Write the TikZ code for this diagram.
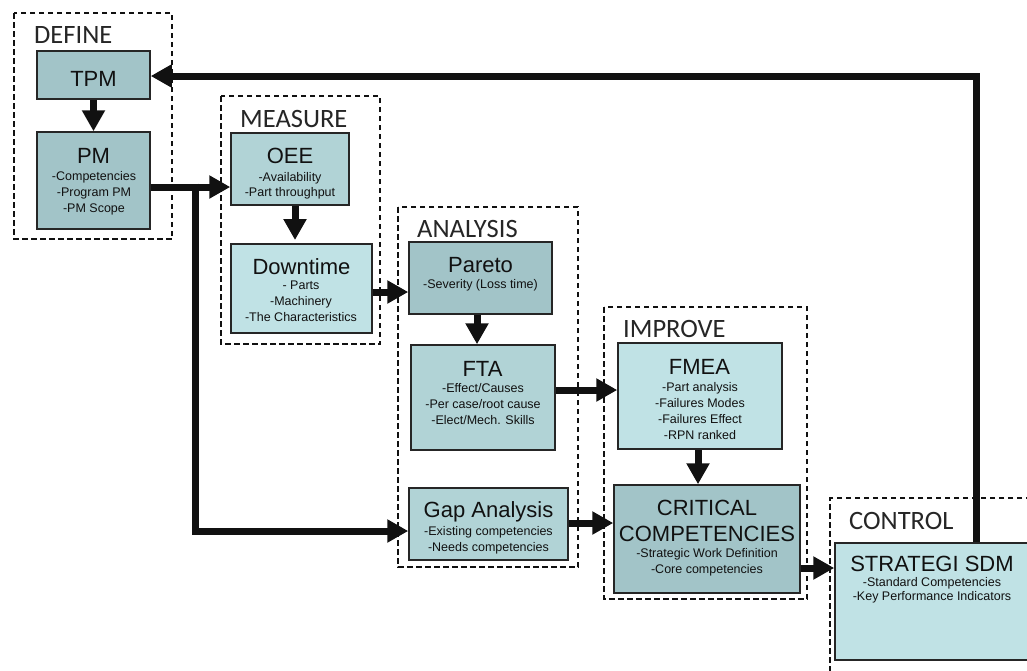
\documentclass[tikz,border=0pt]{standalone}
\usepackage{fontspec}
\setmainfont{Liberation Sans}
\newfontfamily\stagefont{Carlito}
\usetikzlibrary{arrows.meta}
\definecolor{boxlight}{HTML}{C0E2E5}
\definecolor{boxdark}{HTML}{A2C4C8}
\definecolor{boxmid}{HTML}{B1D3D6}
\definecolor{ink}{HTML}{111111}
\definecolor{edge}{HTML}{262626}

\begin{document}
\begin{tikzpicture}[x=1pt,y=-1pt,
  box/.style={draw=edge, line width=1.5pt, rectangle, inner sep=0pt},
  phase/.style={draw=ink, line width=1.3pt, dash pattern=on 5.5pt off 3.5pt},
  stage/.style={font=\stagefont\fontsize{26.5}{28}\selectfont, text=edge, anchor=base west, inner sep=0pt},
  title/.style={font=\fontsize{22}{24}\selectfont, text=ink, anchor=base, inner sep=0pt},
  item/.style={font=\fontsize{12.5}{14}\selectfont, text=ink, anchor=base, inner sep=0pt},
  flow/.style={draw=ink, line width=7pt, line join=miter, -{Triangle[length=21pt,width=22pt]}},
]
\useasboundingbox (0,0) rectangle (1027,670);
\fill[white] (0,0) rectangle (1027,670);
\clip (0,0) rectangle (1027,670);

% phase frames
\draw[phase] (14,13) rectangle (172,239);
\draw[phase] (221,96) rectangle (380,344);
\draw[phase] (398,207) rectangle (578,567);
\draw[phase] (604,307) rectangle (807,599);
\draw[phase] (1040,498) -- (830,498) -- (830,680);

\node[stage] (lblDefine)   at (34,43)   {DEFINE};
\node[stage] (lblMeasure)  at (240,127) {MEASURE};
\node[stage] (lblAnalysis) at (417,237) {ANALYSIS};
\node[stage] (lblImprove)  at (623,337) {IMPROVE};
\node[stage] (lblControl)  at (849,529) {CONTROL};

% process boxes
\node[box, fill=boxdark,  minimum width=113pt, minimum height=48pt]  (tpm)    at (93.5,75)    {};
\node[box, fill=boxdark,  minimum width=113pt, minimum height=97pt]  (pm)     at (93.5,180.5) {};
\node[box, fill=boxmid,   minimum width=118pt, minimum height=72pt]  (oee)    at (290,169)    {};
\node[box, fill=boxlight, minimum width=141pt, minimum height=89pt]  (down)   at (301.5,288.5){};
\node[box, fill=boxdark,  minimum width=143pt, minimum height=72pt]  (pareto) at (480.5,278)  {};
\node[box, fill=boxmid,   minimum width=144pt, minimum height=105pt] (fta)    at (483,397.5)  {};
\node[box, fill=boxmid,   minimum width=159pt, minimum height=72pt]  (gap)    at (488.5,524)  {};
\node[box, fill=boxlight, minimum width=164pt, minimum height=106pt] (fmea)   at (700,396)    {};
\node[box, fill=boxdark,  minimum width=186pt, minimum height=108pt] (crit)   at (707,539)    {};
\node[box, fill=boxlight, minimum width=210pt, minimum height=117pt] (strat)  at (940,601.5)  {};

% box texts
\node[title] (tpmT) at (93.5,86) {TPM};

\node[title] (pmT) at (93.5,163) {PM};
\node[item] (pm1) at (94,180) {-Competencies};
\node[item] (pm2) at (94,196) {-Program PM};
\node[item] (pm3) at (94,212) {-PM Scope};

\node[title] (oeeT) at (290,163) {OEE};
\node[item] (oee1) at (290,181) {-Availability};
\node[item] (oee2) at (290,196) {-Part throughput};

\node[title] (downT) at (301.5,274) {Downtime};
\node[item] (down1) at (301,289) {- Parts};
\node[item] (down2) at (301,305) {-Machinery};
\node[item] (down3) at (301,321) {-The Characteristics};

\node[title] (paretoT) at (480.5,272) {Pareto};
\node[item] (pareto1) at (480.5,288) {-Severity (Loss time)};

\node[title] (ftaT) at (482.5,376) {FTA};
\node[item] (fta1) at (483,392) {-Effect/Causes};
\node[item] (fta2) at (483,408) {-Per case/root cause};
\node[item] (fta3) at (483,424) {-Elect/Mech. Skills};

\node[title] (gapT) at (488.5,517) {Gap Analysis};
\node[item] (gap1) at (488.5,535) {-Existing competencies};
\node[item] (gap2) at (488.5,551) {-Needs competencies};

\node[title] (fmeaT) at (699.5,374) {FMEA};
\node[item] (fmea1) at (700,391) {-Part analysis};
\node[item] (fmea2) at (700,407) {-Failures Modes};
\node[item] (fmea3) at (700,423) {-Failures Effect};
\node[item] (fmea4) at (700,439) {-RPN ranked};

\node[title] (critT1) at (707,515) {CRITICAL};
\node[title] (critT2) at (707,541) {COMPETENCIES};
\node[item] (crit1) at (707,557) {-Strategic Work Definition};
\node[item] (crit2) at (707,573) {-Core competencies};

\node[title] (stratT) at (932,571) {STRATEGI SDM};
\node[item] (strat1) at (932,586) {-Standard Competencies};
\node[item] (strat2) at (932,600) {-Key Performance Indicators};

% connector guide points
\coordinate (split) at (195,187);
\coordinate (bend)  at (195,531);
\coordinate (odx)   at (295,240);
\coordinate (dpy)   at (0,292);
\coordinate (pfx)   at (477,0);
\coordinate (ffy)   at (0,390);
\coordinate (fcx)   at (698,0);
\coordinate (gcy)   at (0,523);
\coordinate (csy)   at (0,568);
\coordinate (fbtop) at (976,76);

% flow arrows
\draw[flow] (tpm.south) -- (pm.north);
\draw[flow] (pm.east |- split) -- (oee.west |- split);
\draw[flow] ([yshift=3.5pt]split) -- (bend) -- (gap.west |- bend);
\draw[flow] (oee.south -| odx) -- (odx);
\draw[flow] (down.east |- dpy) -- (pareto.west |- dpy);
\draw[flow] (pareto.south -| pfx) -- (fta.north -| pfx);
\draw[flow] (fta.east |- ffy) -- (fmea.west |- ffy);
\draw[flow] (fmea.south -| fcx) -- (crit.north -| fcx);
\draw[flow] (gap.east |- gcy) -- (crit.west |- gcy);
\draw[flow] (crit.east |- csy) -- (strat.west |- csy);
\draw[flow] (strat.north -| fbtop) -- (fbtop) -- (tpm.east |- fbtop);
\end{tikzpicture}
\end{document}
